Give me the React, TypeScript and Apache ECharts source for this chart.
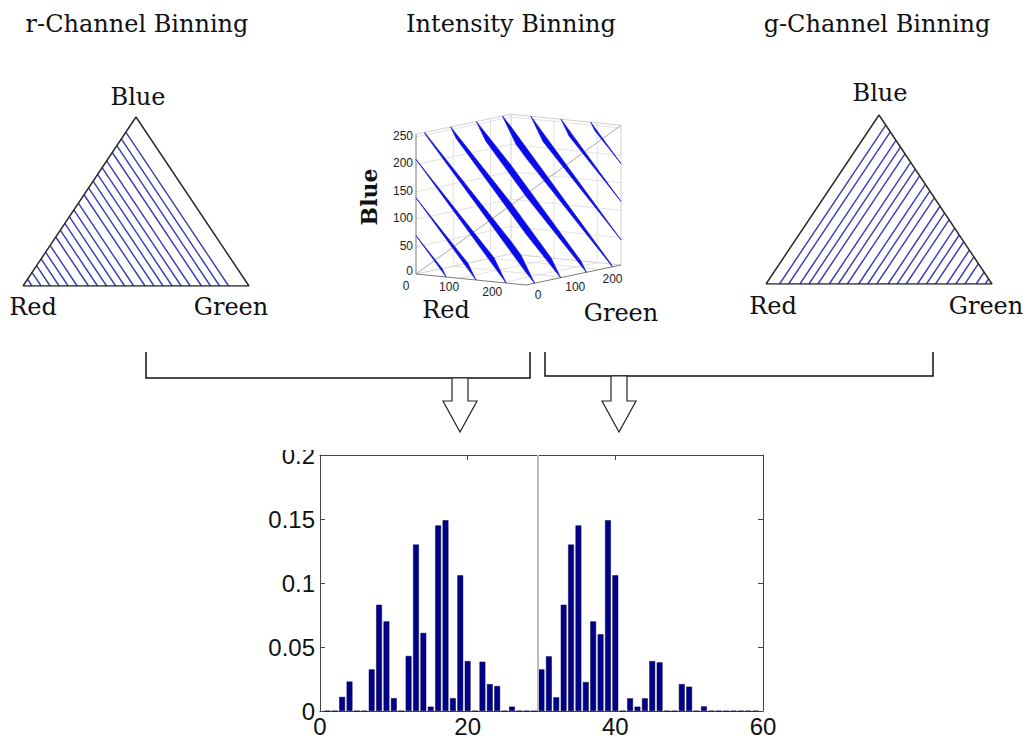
import React, { useEffect, useRef } from "react";
import * as echarts from "echarts";

// ---------- data ----------
const panelTitles = ["r-Channel Binning", "Intensity Binning", "g-Channel Binning"];
const vertexNames = ["Red", "Green", "Blue"];

// hatch lines: r = const (fraction of r) in the r-channel triangle
const rChannelLevels = [0.09, 0.13, 0.17, 0.21, 0.26, 0.3, 0.34, 0.38, 0.42, 0.46, 0.51, 0.55, 0.59, 0.63, 0.67, 0.71, 0.76, 0.8, 0.84, 0.88, 0.92, 0.96];
// hatch lines: g = const in the g-channel triangle
const gChannelLevels = [0.06, 0.1, 0.15, 0.19, 0.23, 0.28, 0.32, 0.36, 0.41, 0.45, 0.49, 0.54, 0.58, 0.62, 0.67, 0.71, 0.75, 0.8, 0.84, 0.88, 0.93, 0.97];
// intensity planes r+g+b = c
const intensityLevels = [70, 139, 209, 278, 348, 417, 487, 556, 626, 695];
const rgTicks = [0, 100, 200];
const blueTicks = [0, 50, 100, 150, 200, 250];

// histogram (bins 1..29, then 30..59)
const rIntensityHist = [0, 0, 0.011, 0.023, 0, 0, 0.0325, 0.083, 0.07, 0.01, 0, 0.043, 0.13, 0.061, 0.0034, 0.145, 0.149, 0.01, 0.106, 0.039, 0, 0.0385, 0.021, 0.0195, 0, 0.0034, 0, 0, 0];
const gIntensityHist = [0.0325, 0.0427, 0.0107, 0.083, 0.13, 0.145, 0.0226, 0.07, 0.06, 0.149, 0.106, 0, 0.0099, 0.0034, 0.0099, 0.039, 0.038, 0, 0, 0.021, 0.019, 0, 0.0036, 0, 0, 0, 0, 0, 0, 0];
const histXTicks = [0, 20, 40, 60];
const histYTicks = [0, 0.05, 0.1, 0.15, 0.2];

// ---------- 3D projection (layout) ----------
const CUBE = 255;
const UR = [110 / 255, 11 / 255];
const UG = [95 / 255, -20 / 255];
const UB = [0, -0.548];
const proj = (p: number[]) => [
  p[0] * UR[0] + p[1] * UG[0] + p[2] * UB[0],
  p[0] * UR[1] + p[1] * UG[1] + p[2] * UB[1],
];

function cubeSection(c: number) {
  const M = CUBE;
  const pts: number[][] = [];
  for (let a = 0; a < 3; a++) {
    const o1 = (a + 1) % 3;
    const o2 = (a + 2) % 3;
    for (const v1 of [0, M]) {
      for (const v2 of [0, M]) {
        const va = c - v1 - v2;
        if (va >= 0 && va <= M) {
          const p = [0, 0, 0];
          p[a] = va;
          p[o1] = v1;
          p[o2] = v2;
          if (!pts.some((q) => Math.abs(q[0] - p[0]) + Math.abs(q[1] - p[1]) + Math.abs(q[2] - p[2]) < 1e-6)) pts.push(p);
        }
      }
    }
  }
  const cen = [0, 1, 2].map((i) => pts.reduce((s, p) => s + p[i], 0) / pts.length);
  const ang = (p: number[]) => {
    const d = [p[0] - cen[0], p[1] - cen[1], p[2] - cen[2]];
    const u = d[0] - d[1];
    const v = d[0] + d[1] - 2 * d[2];
    return Math.atan2(v, u);
  };
  return pts.sort((a, b) => ang(a) - ang(b));
}

const SERIF = '"DejaVu Serif", serif';
const SANS = '"Liberation Sans", Arial, sans-serif';

export default function App() {
  const ref = useRef<HTMLDivElement>(null);

  useEffect(() => {
    if (!ref.current) return;
    const chart = echarts.init(ref.current, undefined, { renderer: "svg" });

    const histData = [...rIntensityHist, ...gIntensityHist].map((v, i) => [i + 1, v]);
    const splitAt = rIntensityHist.length + 0.5;

    const hatch = (levels: number[], idx: number, kind: "r" | "g") => ({
      type: "custom",
      coordinateSystem: "cartesian2d",
      xAxisIndex: idx,
      yAxisIndex: idx,
      clip: false,
      z: 2,
      data: levels.map((v) => [v, 0]),
      renderItem: (params: any, api: any) => {
        const t = api.value(0);
        let a: number[], b: number[];
        if (kind === "r") {
          // r = t : from base (g = 1 - t) up to the Red-Blue edge (b = 1 - t)
          a = api.coord([1 - t, 0]);
          b = api.coord([(1 - t) / 2, 1 - t]);
        } else {
          // g = t : from base up to the Green-Blue edge
          a = api.coord([t, 0]);
          b = api.coord([t + (1 - t) / 2, 1 - t]);
        }
        return {
          type: "line",
          shape: { x1: a[0], y1: a[1], x2: b[0], y2: b[1] },
          style: { stroke: "#3a3ab6", lineWidth: 1.4 },
        };
      },
    });

    const outline = (idx: number) => ({
      type: "line",
      xAxisIndex: idx,
      yAxisIndex: idx,
      symbol: "none",
      z: 3,
      silent: true,
      lineStyle: { color: "#2a2a2a", width: 1.5 },
      data: [[0, 0], [1, 0], [0.5, 1], [0, 0]],
    });

    const frame3d = {
      type: "custom",
      coordinateSystem: "cartesian2d",
      xAxisIndex: 4,
      yAxisIndex: 4,
      clip: false,
      z: 1,
      data: [[0, 0]],
      renderItem: (params: any, api: any) => {
        const M = CUBE;
        const pt = (p: number[]) => api.coord(proj(p));
        const seg = (a: number[], b: number[], stroke: string, lw: number) => {
          const p1 = pt(a);
          const p2 = pt(b);
          return { type: "line", shape: { x1: p1[0], y1: p1[1], x2: p2[0], y2: p2[1] }, style: { stroke, lineWidth: lw } };
        };
        const kids: any[] = [];
        const gc = "#dadada";
        blueTicks.forEach((b) => {
          if (b > 0) {
            kids.push(seg([0, 0, b], [0, M, b], gc, 0.8));
            kids.push(seg([0, M, b], [M, M, b], gc, 0.8));
          }
        });
        rgTicks.forEach((t) => {
          if (t > 0) {
            kids.push(seg([0, t, 0], [0, t, M], gc, 0.8));
            kids.push(seg([t, M, 0], [t, M, M], gc, 0.8));
            kids.push(seg([t, 0, 0], [t, M, 0], gc, 0.8));
            kids.push(seg([0, t, 0], [M, t, 0], gc, 0.8));
          }
        });
        const ec = "#cccccc";
        kids.push(seg([0, 0, M], [0, M, M], ec, 0.9));
        kids.push(seg([0, M, M], [M, M, M], ec, 0.9));
        kids.push(seg([0, M, 0], [0, M, M], ec, 0.9));
        kids.push(seg([M, M, 0], [M, M, M], ec, 0.9));
        kids.push(seg([0, 0, 0], [0, M, 0], ec, 0.9));
        kids.push(seg([0, M, 0], [M, M, 0], ec, 0.9));
        kids.push(seg([0, 0, 0], [M, M, M], "#a9a9a9", 1));
        const ac = "#7a7a7a";
        kids.push(seg([0, 0, 0], [0, 0, M], ac, 1));
        kids.push(seg([0, 0, 0], [M, 0, 0], ac, 1));
        kids.push(seg([M, 0, 0], [M, M, 0], ac, 1));
        const font = "12px " + SANS;
        blueTicks.forEach((b) => {
          const p = pt([0, 0, b]);
          const dy = b === 0 ? -3 : -1;
          kids.push({ type: "text", x: p[0] - 3, y: p[1] + dy, style: { text: String(b), align: "right", verticalAlign: "middle", fill: "#222", font } });
        });
        rgTicks.forEach((t) => {
          const p = pt([t, 0, 0]);
          const dy = t === 0 ? 12 : 9;
          kids.push({ type: "text", x: p[0] - 10, y: p[1] + dy, style: { text: String(t), align: "center", verticalAlign: "middle", fill: "#222", font } });
          const q = pt([M, t, 0]);
          kids.push({ type: "text", x: q[0] + 12, y: q[1] + 10, style: { text: String(t), align: "center", verticalAlign: "middle", fill: "#222", font } });
        });
        return { type: "group", children: kids };
      },
    };

    const planes3d = {
      type: "custom",
      coordinateSystem: "cartesian2d",
      xAxisIndex: 4,
      yAxisIndex: 4,
      clip: false,
      z: 2,
      data: intensityLevels.map((c) => [c, 0]),
      renderItem: (params: any, api: any) => {
        const c = api.value(0);
        const pts = cubeSection(c).map((p) => api.coord(proj(p)));
        return {
          type: "polygon",
          shape: { points: pts },
          style: { fill: "#0a0af0", stroke: "#2424cc", lineWidth: 0.8 },
        };
      },
    };

    const txt = (text: string, x: number, y: number, font: string, extra: any = {}) => ({
      type: "text",
      x,
      y,
      z: 50,
      ...extra,
      style: { text, font, fill: "#111", align: "center", verticalAlign: "middle", textAlign: "center", textVerticalAlign: "middle" },
    });
    const f24 = "24px " + SERIF;

    const arrow = (cx: number, top: number) => ({
      type: "polygon",
      z: 50,
      shape: {
        points: [
          [cx - 8, top], [cx + 8, top], [cx + 8, 401], [cx + 17, 401], [cx, 432], [cx - 17, 401], [cx - 8, 401],
        ],
      },
      style: { fill: "#fff", stroke: "#222", lineWidth: 1.2 },
    });

    const axisCommon = {
      axisLine: { onZero: false, lineStyle: { color: "#444", width: 1 } },
      axisTick: { inside: true, length: 5, lineStyle: { color: "#444" } },
      splitLine: { show: false },
    };

    chart.setOption({
      animation: false,
      backgroundColor: "#fff",
      grid: [
        { left: 320, top: 455, width: 443, height: 256 },
        { left: 23, top: 117, width: 226, height: 169 },
        { left: 766, top: 115, width: 226, height: 169 },
        { left: 376, top: 100, width: 270, height: 200 },
      ],
      xAxis: [
        {
          gridIndex: 0, type: "value", position: "bottom",
          min: histXTicks[0], max: histXTicks[histXTicks.length - 1], interval: histXTicks[1] - histXTicks[0],
          ...axisCommon,
          axisLabel: { fontSize: 24, fontFamily: SANS, color: "#111", margin: 3 },
        },
        {
          gridIndex: 0, type: "value", position: "top",
          min: histXTicks[0], max: histXTicks[histXTicks.length - 1], interval: histXTicks[1] - histXTicks[0],
          ...axisCommon,
          axisLabel: { show: false },
        },
        { gridIndex: 1, type: "value", min: 0, max: 1, show: false },
        { gridIndex: 2, type: "value", min: 0, max: 1, show: false },
        { gridIndex: 3, type: "value", min: -40, max: 230, show: false },
      ],
      yAxis: [
        {
          gridIndex: 0, type: "value", position: "left",
          min: histYTicks[0], max: histYTicks[histYTicks.length - 1], interval: histYTicks[1] - histYTicks[0],
          ...axisCommon,
          axisLabel: { fontSize: 24, fontFamily: SANS, color: "#111", margin: 5, formatter: (v: number) => String(+v.toFixed(2)) },
        },
        {
          gridIndex: 0, type: "value", position: "right",
          min: histYTicks[0], max: histYTicks[histYTicks.length - 1], interval: histYTicks[1] - histYTicks[0],
          ...axisCommon,
          axisLabel: { show: false },
        },
        { gridIndex: 1, type: "value", min: 0, max: 1, show: false },
        { gridIndex: 2, type: "value", min: 0, max: 1, show: false },
        { gridIndex: 3, type: "value", min: -174, max: 26, inverse: true, show: false },
      ],
      series: [
        {
          type: "bar",
          xAxisIndex: 0,
          yAxisIndex: 0,
          barWidth: 5.8,
          data: histData,
          itemStyle: { color: "#000088", borderColor: "#00004a", borderWidth: 0.5 },
          markLine: {
            silent: true,
            symbol: "none",
            label: { show: false },
            lineStyle: { color: "#bdbdbd", width: 2, type: "solid" },
            data: [{ xAxis: splitAt }],
          },
        },
        hatch(rChannelLevels, 2, "r"),
        outline(2),
        hatch(gChannelLevels, 3, "g"),
        outline(3),
        frame3d,
        planes3d,
      ],
      graphic: [
        txt(panelTitles[0], 137, 24, f24),
        txt(panelTitles[1], 511, 24, f24),
        txt(panelTitles[2], 877, 24, f24),
        txt(vertexNames[2], 138, 97, f24),
        txt(vertexNames[0], 33, 307, f24),
        txt(vertexNames[1], 231, 307, f24),
        txt(vertexNames[2], 880, 93, f24),
        txt(vertexNames[0], 773, 306, f24),
        txt(vertexNames[1], 986, 306, f24),
        txt(vertexNames[2], 369, 197, "bold 22px " + SERIF, { rotation: Math.PI / 2 }),
        txt(vertexNames[0], 446, 310, f24),
        txt(vertexNames[1], 621, 313, f24),
        {
          type: "polyline", z: 50,
          shape: { points: [[146, 352], [146, 378], [530, 378], [530, 352]] },
          style: { stroke: "#111", lineWidth: 1.5, fill: "none" },
        },
        {
          type: "polyline", z: 50,
          shape: { points: [[545, 352], [545, 376], [933, 376], [933, 352]] },
          style: { stroke: "#111", lineWidth: 1.5, fill: "none" },
        },
        arrow(460, 378),
        arrow(619, 376),
        { type: "rect", z: 100, shape: { x: 268, y: 425, width: 50, height: 25 }, style: { fill: "#fff" } },
      ],
    });

    return () => chart.dispose();
  }, []);

  return <div ref={ref} style={{ position: "fixed", left: 0, top: 0, width: 1027, height: 738, background: "#fff" }} />;
}
